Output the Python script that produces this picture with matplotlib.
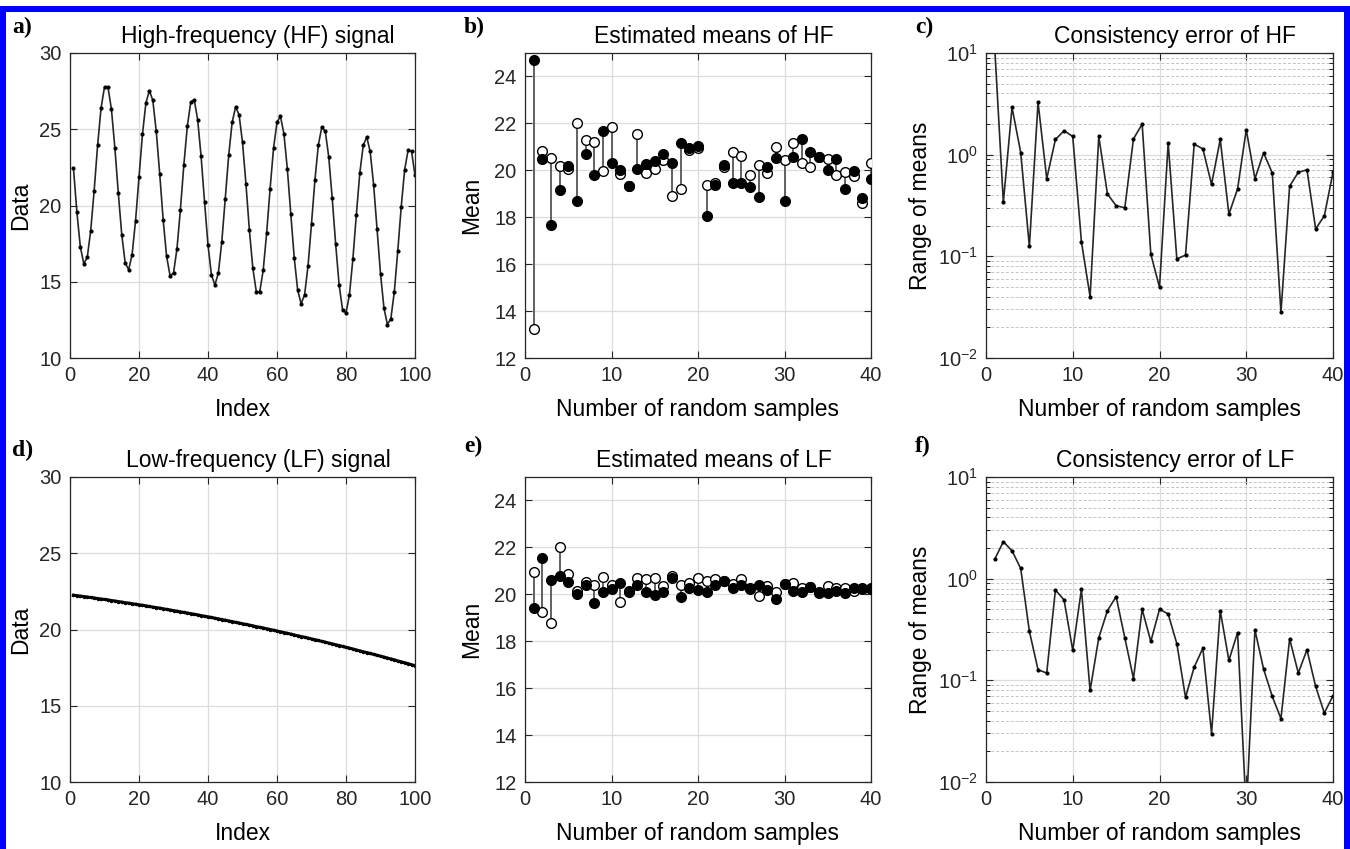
import numpy as np
import matplotlib
matplotlib.use('Agg')
import matplotlib.pyplot as plt
from matplotlib.patches import Rectangle
from matplotlib.ticker import LogLocator, NullFormatter, MultipleLocator

# ---- data ----
hf_signal = [22.46, 19.55, 17.28, 16.19, 16.60, 18.35, 20.97, 23.94, 26.39, 27.77,
             27.77, 26.33, 23.80, 20.82, 18.09, 16.23, 15.79, 16.78, 19.00, 21.85,
             24.67, 26.72, 27.53, 26.90, 24.86, 22.09, 19.07, 16.67, 15.40, 15.57,
             17.15, 19.73, 22.66, 25.19, 26.77, 26.94, 25.63, 23.22, 20.23, 17.41,
             15.44, 14.79, 15.57, 17.63, 20.45, 23.29, 25.45, 26.46, 25.96, 24.14,
             21.41, 18.37, 15.88, 14.35, 14.35, 15.75, 18.20, 21.10, 23.77, 25.45,
             25.85, 24.71, 22.39, 19.44, 16.56, 14.44, 13.56, 14.15, 16.05, 18.81,
             21.69, 23.99, 25.15, 24.86, 23.18, 20.49, 17.48, 14.81, 13.17, 12.95,
             14.15, 16.51, 19.40, 22.13, 23.94, 24.49, 23.55, 21.37, 18.46, 15.53,
             13.28, 12.19, 12.58, 14.33, 17.00, 19.90, 22.35, 23.62, 23.55, 21.98]

lf_signal = [22.25, 22.22, 22.19, 22.16, 22.13, 22.10, 22.07, 22.03, 22.00, 21.97,
             21.94, 21.90, 21.87, 21.83, 21.80, 21.76, 21.73, 21.69, 21.66, 21.62,
             21.59, 21.55, 21.51, 21.47, 21.44, 21.40, 21.36, 21.32, 21.28, 21.24,
             21.20, 21.16, 21.12, 21.08, 21.04, 21.00, 20.96, 20.91, 20.87, 20.83,
             20.79, 20.74, 20.70, 20.65, 20.61, 20.56, 20.52, 20.47, 20.43, 20.38,
             20.33, 20.29, 20.24, 20.19, 20.14, 20.10, 20.05, 20.00, 19.95, 19.90,
             19.85, 19.80, 19.75, 19.70, 19.64, 19.59, 19.54, 19.49, 19.44, 19.38,
             19.33, 19.28, 19.22, 19.17, 19.11, 19.06, 19.00, 18.95, 18.89, 18.83,
             18.78, 18.72, 18.66, 18.60, 18.54, 18.49, 18.43, 18.37, 18.31, 18.25,
             18.19, 18.13, 18.07, 18.01, 17.94, 17.88, 17.82, 17.76, 17.69, 17.63]

hf_mean_a = [24.70, 20.50, 17.67, 19.18, 20.18, 18.71, 20.71, 19.82, 21.67, 20.33,
             20.01, 19.33, 20.07, 20.28, 20.40, 20.68, 20.31, 21.16, 20.96, 21.04,
             18.04, 19.38, 20.21, 19.46, 19.45, 19.29, 18.85, 20.16, 20.54, 18.68,
             20.57, 21.35, 20.78, 20.57, 20.03, 20.47, 19.22, 19.96, 18.81, 19.65]
hf_mean_b = [13.23, 20.82, 20.51, 20.20, 20.07, 22.00, 21.29, 21.22, 19.97, 21.84,
             19.86, 19.35, 21.56, 19.90, 20.04, 20.43, 18.91, 19.19, 20.87, 20.96,
             19.36, 19.48, 20.13, 20.78, 20.60, 19.79, 20.21, 19.89, 20.98, 20.43,
             21.15, 20.30, 20.14, 20.55, 20.50, 19.79, 19.94, 19.76, 18.60, 20.30]

lf_mean_a = [19.40, 21.55, 20.62, 20.78, 20.52, 20.00, 20.40, 19.65, 20.09, 20.21,
             20.47, 20.16, 20.41, 20.11, 19.97, 20.10, 20.68, 19.90, 20.26, 20.18,
             20.11, 20.38, 20.55, 20.28, 20.40, 20.24, 20.40, 20.18, 19.79, 20.44,
             20.16, 20.09, 20.30, 20.07, 20.07, 20.16, 20.07, 20.27, 20.26, 20.23]
lf_mean_b = [20.94, 19.23, 18.77, 22.01, 20.85, 20.16, 20.52, 20.41, 20.75, 20.41,
             19.67, 20.11, 20.68, 20.64, 20.71, 20.37, 20.78, 20.41, 20.47, 20.71,
             20.57, 20.64, 20.58, 20.44, 20.64, 20.26, 19.93, 20.37, 20.10, 20.44,
             20.47, 20.26, 20.33, 20.10, 20.37, 20.26, 20.28, 20.14, 20.23, 20.28]

hf_range = [11.5, 0.34, 2.92, 1.05, 0.125, 3.27, 0.58, 1.41, 1.72, 1.51,
            0.139, 0.040, 1.51, 0.41, 0.315, 0.30, 1.43, 2.0, 0.105, 0.0496,
            1.30, 0.094, 0.103, 1.27, 1.14, 0.51, 1.41, 0.26, 0.46, 1.76,
            0.58, 1.04, 0.66, 0.0281, 0.49, 0.67, 0.71, 0.186, 0.25, 0.67]
lf_range = [1.55, 2.31, 1.88, 1.26, 0.304, 0.127, 0.118, 0.774, 0.618, 0.197,
            0.786, 0.0796, 0.262, 0.485, 0.666, 0.262, 0.104, 0.50, 0.241, 0.50,
            0.45, 0.229, 0.068, 0.135, 0.207, 0.0299, 0.485, 0.157, 0.295, 0.005,
            0.313, 0.129, 0.0695, 0.042, 0.256, 0.118, 0.20, 0.087, 0.0477, 0.0706]

idx = np.arange(1, len(hf_signal) + 1)
nsamp = np.arange(1, len(hf_mean_a) + 1)

plt.rcParams['font.family'] = ['Liberation Sans', 'DejaVu Sans']
LINE = '#262626'
GRID = '#dcdcdc'

W, H = 1350, 849
fig = plt.figure(figsize=(W / 100, H / 100), dpi=100)


def make_ax(x0, y0, x1, y1):
    return fig.add_axes([x0 / W, 1 - y1 / H, (x1 - x0) / W, (y1 - y0) / H])


def style(ax, title, xlabel, ylabel, ylab_x):
    ax.set_title(title, fontsize=16.5, x=0.545, pad=7)
    ax.set_xlabel(xlabel, fontsize=16.5)
    ax.set_ylabel(ylabel, fontsize=16.5)
    ax.xaxis.set_label_coords(0.5, -0.13)
    ax.yaxis.set_label_coords(ylab_x, 0.5)
    ax.tick_params(direction='in', top=True, right=True, labelsize=14.5,
                   length=5, width=0.8, colors=LINE, pad=6, which='major')
    ax.tick_params(which='minor', direction='in', left=True, right=True, length=3, width=0.6)
    for s in ax.spines.values():
        s.set_color(LINE)
        s.set_linewidth(0.9)
    ax.grid(True, which='major', color=GRID, lw=0.9)
    ax.set_axisbelow(True)


rows = [(53, 358), (477, 782)]
cols = [(70, 415), (525, 871), (986, 1333)]

# a) and d) signals
for r, sig, title in [(0, hf_signal, 'High-frequency (HF) signal'),
                      (1, lf_signal, 'Low-frequency (LF) signal')]:
    ax = make_ax(cols[0][0], rows[r][0], cols[0][1], rows[r][1])
    if r == 0:
        ax.plot(idx, sig, '-', color=LINE, lw=1.2, marker='.', ms=4, mfc='k', mec='k')
    else:
        ax.plot(idx, sig, '-', color='k', lw=2.2, marker='.', ms=3, mfc='k', mec='k')
    ax.set_xlim(0, 100)
    ax.set_ylim(10, 30)
    ax.xaxis.set_major_locator(MultipleLocator(20))
    ax.yaxis.set_major_locator(MultipleLocator(5))
    style(ax, title, 'Index', 'Data', -0.11)

# b) and e) estimated means
for r, ma, mb, title in [(0, hf_mean_a, hf_mean_b, 'Estimated means of HF'),
                         (1, lf_mean_a, lf_mean_b, 'Estimated means of LF')]:
    ax = make_ax(cols[1][0], rows[r][0], cols[1][1], rows[r][1])
    ax.vlines(nsamp, np.minimum(ma, mb), np.maximum(ma, mb), color='#555555', lw=1.3, zorder=2)
    ax.plot(nsamp, mb, 'o', ms=7, mfc='white', mec='k', mew=1.0, zorder=3)
    ax.plot(nsamp, ma, 'o', ms=7, mfc='k', mec='k', mew=1.0, zorder=4)
    ax.set_xlim(0, 40)
    ax.set_ylim(12, 25)
    ax.xaxis.set_major_locator(MultipleLocator(10))
    ax.yaxis.set_major_locator(MultipleLocator(2))
    style(ax, title, 'Number of random samples', 'Mean', -0.121)

# c) and f) consistency error
for r, rng, title in [(0, hf_range, 'Consistency error of HF'),
                      (1, lf_range, 'Consistency error of LF')]:
    ax = make_ax(cols[2][0], rows[r][0], cols[2][1], rows[r][1])
    ax.semilogy(nsamp, rng, '-', color=LINE, lw=1.2, marker='.', ms=4, mfc='k', mec='k')
    ax.set_xlim(0, 40)
    ax.set_ylim(1e-2, 1e1)
    ax.xaxis.set_major_locator(MultipleLocator(10))
    ax.yaxis.set_major_locator(LogLocator(base=10, numticks=10))
    ax.yaxis.set_minor_locator(LogLocator(base=10, subs=np.arange(2, 10), numticks=10))
    ax.yaxis.set_minor_formatter(NullFormatter())
    style(ax, title, 'Number of random samples', 'Range of means', -0.156)
    ax.grid(True, which='minor', axis='y', color='#c4c4c4', lw=0.7, ls=(0, (3, 2)))

# panel letters
for lab, x, y in [('a)', 12, 33), ('b)', 464, 33), ('c)', 915, 33),
                  ('d)', 12, 456), ('e)', 464, 452), ('f)', 915, 452)]:
    fig.text(x / W, 1 - y / H, lab, fontsize=17, fontweight='bold',
             family=['Liberation Serif', 'DejaVu Serif'])

# blue frame
for (x0, y0, w, h) in [(0, 6, W - 5, 6), (0, 6, 6, H), (1344, 6, 6, H)]:
    fig.add_artist(Rectangle((x0 / W, 1 - (y0 + h) / H), w / W, h / H,
                             transform=fig.transFigure, color='#0000ff', lw=0, zorder=10))

fig.savefig('out.png', dpi=100)
